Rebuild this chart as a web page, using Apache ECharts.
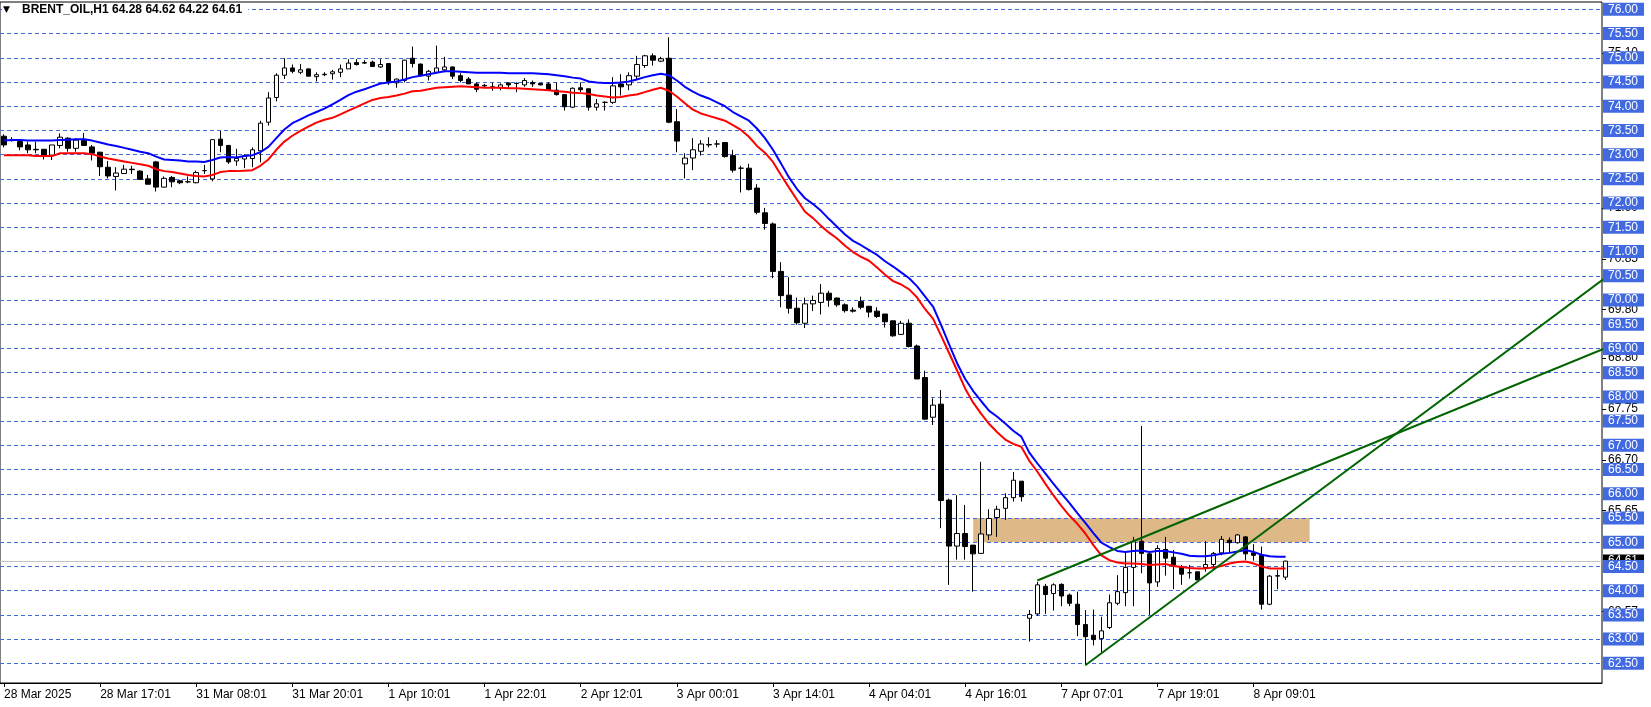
<!DOCTYPE html>
<html><head><meta charset="utf-8">
<script src="https://cdn.jsdelivr.net/npm/echarts@6/dist/echarts.min.js"></script>
<style>html,body{margin:0;padding:0;background:#fff}#c{width:1651px;height:707px}</style>
</head><body><div id="c"></div>
<script>
// ---- DATA ----
const symbolName = 'BRENT_OIL,H1';
const tickLabels = ['28 Mar 2025','28 Mar 17:01','31 Mar 08:01','31 Mar 20:01','1 Apr 10:01','1 Apr 22:01',
  '2 Apr 12:01','3 Apr 00:01','3 Apr 14:01','4 Apr 04:01','4 Apr 16:01','7 Apr 07:01','7 Apr 19:01','8 Apr 09:01'];
const barsPerTick = 12;
const barCount = 200; // slots on the time axis (empty space right of the last bar)
// [open, high, low, close]
const ohlc = [
 [73.38,73.42,73.15,73.20],[73.30,73.36,73.27,73.29],[73.27,73.27,73.09,73.16],[73.20,73.27,73.03,73.10],[73.11,73.27,73.03,73.10],
 [73.11,73.12,72.90,72.99],[72.99,73.20,72.89,73.20],[73.19,73.44,73.13,73.36],[73.34,73.36,73.06,73.13],[73.13,73.34,73.06,73.30],
 [73.29,73.45,73.18,73.19],[73.16,73.20,72.88,73.03],[73.05,73.06,72.56,72.75],[72.74,72.87,72.51,72.56],[72.55,72.74,72.26,72.62],
 [72.61,72.79,72.60,72.70],[72.70,72.77,72.60,72.69],[72.66,72.68,72.48,72.49],[72.50,72.58,72.39,72.39],[72.85,72.87,72.24,72.33],
 [72.33,72.55,72.32,72.51],[72.53,72.56,72.33,72.44],[72.46,72.48,72.39,72.42],[72.44,72.55,72.41,72.44],[72.42,72.67,72.41,72.63],
 [72.67,72.79,72.60,72.67],[72.50,73.31,72.45,73.31],[73.32,73.49,73.05,73.19],[73.19,73.20,72.81,72.85],[72.87,73.12,72.77,72.92],
 [72.91,73.01,72.72,72.98],[72.92,73.15,72.74,73.10],[73.08,73.70,72.84,73.65],[73.67,74.29,73.60,74.17],[74.18,74.68,74.10,74.64],
 [74.64,74.99,74.56,74.79],[74.79,74.86,74.68,74.72],[74.70,74.87,74.66,74.75],[74.77,74.78,74.62,74.62],[74.61,74.70,74.51,74.65],
 [74.65,74.70,74.62,74.66],[74.67,74.75,74.55,74.71],[74.70,74.86,74.60,74.77],[74.77,74.97,74.77,74.89],[74.90,74.97,74.84,74.86],
 [74.90,74.95,74.87,74.89],[74.91,74.94,74.82,74.82],[74.81,74.97,74.79,74.86],[74.88,74.89,74.44,74.51],[74.48,74.57,74.38,74.56],
 [74.53,74.96,74.49,74.95],[74.99,75.23,74.80,74.88],[74.87,74.88,74.62,74.63],[74.62,74.75,74.53,74.72],[74.70,75.25,74.70,74.79],
 [74.75,75.02,74.70,74.81],[74.81,74.82,74.56,74.62],[74.63,74.68,74.49,74.53],[74.56,74.60,74.46,74.46],[74.46,74.49,74.29,74.35],
 [74.43,74.46,74.38,74.42],[74.40,74.49,74.32,74.39],[74.38,74.47,74.33,74.44],[74.48,74.49,74.38,74.44],[74.47,74.49,74.29,74.47],
 [74.44,74.58,74.40,74.53],[74.49,74.53,74.40,74.46],[74.47,74.47,74.43,74.44],[74.46,74.49,74.32,74.33],[74.33,74.49,74.22,74.24],
 [74.24,74.25,73.91,73.99],[73.98,74.39,73.96,74.37],[74.38,74.49,74.29,74.34],[74.36,74.36,73.91,73.98],[73.98,74.15,73.91,74.05],
 [74.08,74.10,73.91,74.08],[74.08,74.60,74.05,74.42],[74.46,74.66,74.22,74.40],[74.44,74.70,74.33,74.63],[74.62,75.04,74.56,74.86],
 [74.84,75.06,74.79,75.04],[75.04,75.09,74.84,74.95],[74.93,75.02,74.91,74.98],[74.99,75.42,73.65,73.67],[73.68,73.94,73.05,73.28],
 [72.81,73.03,72.51,72.93],[72.93,73.34,72.68,73.10],[73.07,73.30,72.98,73.22],[73.21,73.36,73.15,73.20],[73.22,73.30,73.15,73.22],
 [73.25,73.25,72.94,72.96],[72.98,73.10,72.63,72.68],[72.72,72.77,72.22,72.72],[72.72,72.81,72.26,72.28],[72.31,72.39,71.77,71.81],
 [71.80,71.90,71.45,71.58],[71.57,71.60,70.45,70.59],[70.59,70.78,69.85,70.09],[70.10,70.47,69.72,69.83],[69.83,70.05,69.49,69.53],
 [69.52,70.05,69.42,69.92],[69.92,70.09,69.77,69.99],[69.95,70.33,69.70,70.14],[70.14,70.19,69.86,70.00],[70.04,70.05,69.86,69.90],
 [69.90,69.93,69.74,69.78],[69.79,69.85,69.74,69.77],[69.97,70.07,69.81,69.85],[69.87,69.88,69.64,69.75],[69.77,69.85,69.63,69.66],
 [69.71,69.71,69.43,69.55],[69.57,69.57,69.24,69.26],[69.29,69.57,69.28,69.52],[69.52,69.60,69.02,69.04],[69.05,69.08,68.37,68.37],
 [68.40,68.54,67.53,67.54],[67.58,67.97,67.42,67.83],[67.85,68.14,65.29,65.86],[65.87,65.90,64.12,64.92],[64.92,65.97,64.64,65.18],
 [65.18,65.77,64.64,64.91],[64.94,64.94,63.98,64.76],[64.77,66.66,64.77,65.17],[65.15,65.68,65.05,65.49],[65.51,65.75,65.11,65.68],
 [65.70,66.01,65.46,65.92],[65.92,66.45,65.84,66.28],[66.26,66.26,65.84,65.94],[63.43,63.60,62.95,63.51],[63.52,64.18,63.48,64.12],
 [64.09,64.14,63.52,63.92],[63.94,64.15,63.59,64.12],[64.13,64.15,63.68,63.89],[63.91,63.94,63.68,63.74],[63.72,63.98,63.06,63.30],
 [63.30,63.60,62.46,63.05],[63.08,63.61,62.87,62.99],[63.01,63.46,62.72,63.17],[63.24,63.92,63.21,63.75],[63.74,64.32,63.70,63.98],
 [63.96,64.80,63.68,64.48],[64.48,65.11,63.68,65.01],[65.02,67.40,64.36,64.77],[64.76,64.80,63.50,64.16],[64.18,64.94,64.08,64.87],
 [64.85,65.11,64.31,64.67],[64.69,64.84,64.03,64.53],[64.49,64.53,64.12,64.34],[64.37,64.53,64.25,64.37],[64.39,64.39,64.22,64.22],
 [64.48,65.02,64.39,64.54],[64.54,64.80,64.42,64.77],[64.78,65.13,64.73,65.06],[65.04,65.10,64.77,64.99],[64.99,65.17,64.97,65.15],
 [65.11,65.13,64.63,64.76],[64.78,64.96,64.62,64.73],[64.73,64.91,63.61,63.72],[63.72,64.32,63.70,64.30],[64.30,64.43,64.03,64.31],
 [64.28,64.62,64.22,64.61]
];
// moving average of highs (blue) and lows (red)
const maHigh = [
 73.29,73.30,73.30,73.29,73.29,73.29,73.29,73.30,73.31,73.32,
 73.32,73.29,73.25,73.21,73.18,73.14,73.10,73.06,73.03,72.96,
 72.90,72.89,72.88,72.86,72.86,72.85,72.89,72.94,72.95,72.94,
 72.97,72.99,73.05,73.16,73.34,73.52,73.65,73.73,73.81,73.88,
 73.95,74.04,74.13,74.23,74.30,74.35,74.41,74.47,74.49,74.51,
 74.55,74.60,74.63,74.66,74.69,74.72,74.72,74.71,74.70,74.69,
 74.69,74.69,74.69,74.68,74.68,74.68,74.68,74.67,74.66,74.64,
 74.62,74.59,74.57,74.51,74.49,74.48,74.48,74.49,74.51,74.55,
 74.60,74.64,74.67,74.64,74.53,74.40,74.30,74.22,74.16,74.08,
 74.00,73.88,73.79,73.70,73.54,73.34,73.10,72.82,72.53,72.29,
 72.10,71.98,71.84,71.67,71.51,71.35,71.22,71.13,71.03,70.93,
 70.80,70.69,70.57,70.45,70.28,70.07,69.86,69.48,69.08,68.69,
 68.37,68.12,67.91,67.71,67.59,67.45,67.30,67.18,66.85,66.63,
 66.42,66.21,66.01,65.81,65.60,65.40,65.19,64.99,64.90,64.82,
 64.80,64.82,64.83,64.80,64.82,64.82,64.79,64.76,64.72,64.71,
 64.71,64.73,64.76,64.78,64.81,64.84,64.80,64.74,64.71,64.70,
 64.70
];
const maLow = [
 72.99,72.99,72.99,72.99,72.97,72.97,72.97,73.03,73.03,73.03,
 73.03,73.01,72.96,72.92,72.89,72.86,72.83,72.80,72.77,72.70,
 72.66,72.64,72.61,72.58,72.56,72.55,72.58,72.64,72.66,72.66,
 72.67,72.68,72.77,72.90,73.10,73.27,73.39,73.49,73.58,73.66,
 73.72,73.76,73.83,73.91,73.98,74.06,74.13,74.17,74.19,74.22,
 74.26,74.31,74.32,74.35,74.38,74.39,74.40,74.41,74.40,74.39,
 74.38,74.38,74.38,74.37,74.37,74.36,74.35,74.34,74.33,74.31,
 74.30,74.28,74.27,74.25,74.22,74.20,74.18,74.19,74.22,74.24,
 74.29,74.34,74.38,74.32,74.20,74.06,73.93,73.85,73.80,73.75,
 73.70,73.61,73.51,73.37,73.18,73.04,72.85,72.58,72.32,72.07,
 71.82,71.69,71.53,71.39,71.27,71.12,70.99,70.89,70.81,70.67,
 70.52,70.39,70.32,70.22,70.05,69.81,69.61,69.26,68.90,68.54,
 68.17,67.88,67.65,67.44,67.27,67.12,67.03,66.97,66.68,66.46,
 66.21,65.97,65.75,65.55,65.38,65.18,64.94,64.73,64.63,64.58,
 64.56,64.56,64.55,64.53,64.54,64.55,64.51,64.49,64.47,64.46,
 64.46,64.48,64.51,64.56,64.59,64.60,64.56,64.50,64.46,64.46,
 64.46
];
const priceLevels = [62.5,63.0,63.5,64.0,64.5,65.0,65.5,66.0,66.5,67.0,67.5,68.0,68.5,69.0,69.5,70.0,70.5,71.0,71.5,72.0,72.5,73.0,73.5,74.0,74.5,75.0,75.5,76.0];
const scaleLabels = [75.10,71.90,70.85,69.80,68.80,67.75,66.70,65.65,63.57];
const zoneBars = [121, 163];
const zonePrices = [65.0, 65.5];
const trendSteep = [[135, 62.46], [200, 70.47]];
const trendShallow = [[129, 64.21], [200, 69.01]];
const priceRange = [62.094, 76.151];

// ---- CHART ----
const FONT = '"Liberation Sans", Arial, sans-serif';
const categories = [];
for (let i = 0; i < barCount; i++) {
  const k = i / barsPerTick;
  categories.push(Number.isInteger(k) && k < tickLabels.length ? tickLabels[k] : '');
}
const candleData = ohlc.map(r => [r[0], r[3], r[2], r[1]]);
const last = ohlc[ohlc.length - 1];
const fmt = v => Number(v).toFixed(2);
const showIdx = (i) => categories[i] !== '';

const chart = echarts.init(document.getElementById('c'));
chart.setOption({
  animation: false,
  backgroundColor: '#fff',
  textStyle: { fontFamily: FONT },
  title: {
    text: '{t|▼}{s|' + symbolName + ' ' + last.map(fmt).join(' ') + '}',
    left: 2, top: 3, padding: [1, 6, 1, 1], backgroundColor: '#fff', z: 10,
    textStyle: { rich: {
      t: { fontSize: 9, width: 19, color: '#000', fontFamily: '"DejaVu Sans", sans-serif' },
      s: { fontSize: 12, color: '#000', fontFamily: FONT }
    } }
  },
  grid: { left: 0, right: 49, top: 2, bottom: 24, show: true, borderColor: '#000', borderWidth: 1,
          backgroundColor: '#fff', outerBoundsMode: 'none', containLabel: false },
  xAxis: {
    type: 'category', data: categories, boundaryGap: true,
    axisLine: { show: true, lineStyle: { color: '#000', width: 1 } },
    axisTick: { show: true, alignWithLabel: true, interval: showIdx, length: 4, lineStyle: { color: '#000' } },
    axisLabel: { interval: showIdx, align: 'left', margin: 6, fontSize: 12, color: '#000', fontFamily: FONT },
    splitLine: { show: false }
  },
  yAxis: [
    { type: 'value', position: 'right', min: priceRange[0], max: priceRange[1], z: 3,
      axisLine: { show: false },
      axisTick: { show: false, customValues: priceLevels },
      axisLabel: { customValues: priceLevels, formatter: fmt, color: '#fff', backgroundColor: '#4169E1',
                   padding: [1, 6, 0, 5], margin: 1, fontSize: 12, lineHeight: 12, fontFamily: FONT },
      splitLine: { show: true, lineStyle: { color: '#4169E1', width: 1, type: [4, 3] } } },
    { type: 'value', position: 'right', min: priceRange[0], max: priceRange[1], z: 1,
      axisLine: { show: false },
      axisTick: { show: true, customValues: scaleLabels, length: 4, lineStyle: { color: '#000' } },
      axisLabel: { customValues: scaleLabels, formatter: fmt, color: '#000', margin: 6, fontSize: 12, fontFamily: FONT },
      splitLine: { show: false } },
    { type: 'value', position: 'right', min: priceRange[0], max: priceRange[1], z: 2,
      axisLine: { show: false },
      axisTick: { show: false, customValues: [last[3]] },
      axisLabel: { customValues: [last[3]], formatter: fmt, color: '#fff', backgroundColor: '#000',
                   padding: [1, 6, 0, 5], margin: 1, fontSize: 12, lineHeight: 12, fontFamily: FONT },
      splitLine: { show: false } }
  ],
  series: [
    { type: 'line', data: [], z: 1, silent: true,
      markArea: { silent: true, itemStyle: { color: '#DEB887', opacity: 1 },
        data: [[{ xAxis: zoneBars[0], yAxis: zonePrices[0] }, { xAxis: zoneBars[1], yAxis: zonePrices[1] }]] },
      markLine: { silent: true, symbol: ['none', 'none'], label: { show: false },
        lineStyle: { color: '#C0C0C0', type: 'solid', width: 1 }, data: [{ yAxis: last[3] }] } },
    { type: 'candlestick', data: candleData, barWidth: 5, z: 5,
      itemStyle: { color: '#fff', color0: '#000', borderColor: '#000', borderColor0: '#000',
                   borderColorDoji: '#000', borderWidth: 1 } },
    { type: 'line', data: maHigh, z: 6, symbol: 'none', silent: true, lineStyle: { color: '#0000FF', width: 2 } },
    { type: 'line', data: maLow, z: 6, symbol: 'none', silent: true, lineStyle: { color: '#FF0000', width: 2 } },
    { type: 'line', data: trendSteep, z: 6, symbol: 'none', silent: true, lineStyle: { color: '#006400', width: 2 } },
    { type: 'line', data: trendShallow, z: 6, symbol: 'none', silent: true, lineStyle: { color: '#006400', width: 2 } }
  ]
});
</script>
</body></html>
